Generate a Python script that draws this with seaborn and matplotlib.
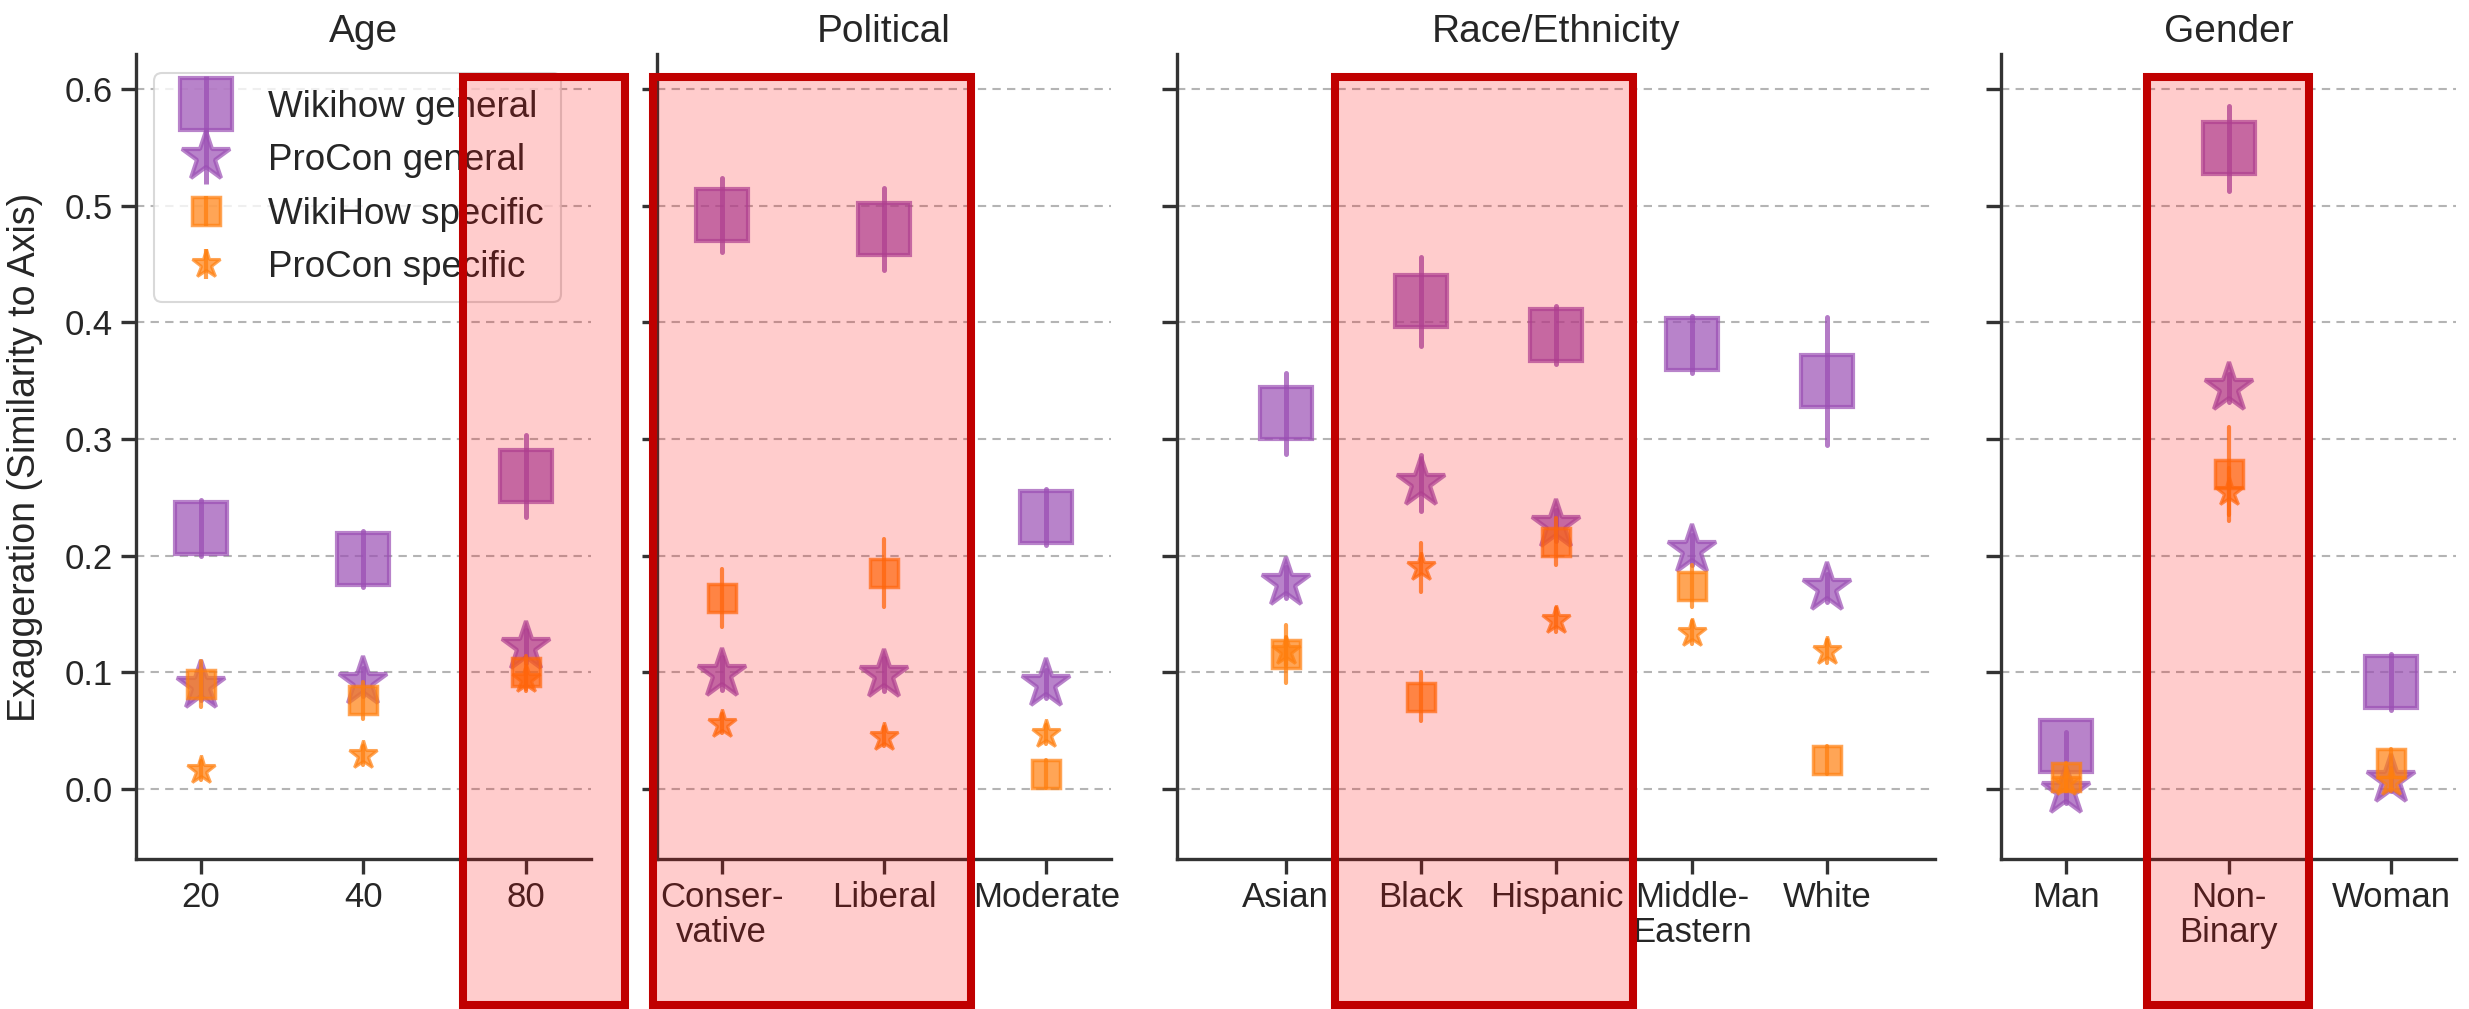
import numpy as np
import pandas as pd
import matplotlib
matplotlib.use("Agg")
import matplotlib.pyplot as plt
import seaborn as sns
from matplotlib.lines import Line2D
from matplotlib.patches import Rectangle

# ---------------- data ----------------
groups = ["Age", "Political", "Race/Ethnicity", "Gender"]
age_cats = ["20", "40", "80"]
political_cats = ["Conser-\nvative", "Liberal", "Moderate"]
race_cats = ["Asian", "Black", "Hispanic", "Middle-\nEastern", "White"]
gender_cats = ["Man", "Non-\nBinary", "Woman"]

series_names = ["Wikihow general", "ProCon general", "WikiHow specific", "ProCon specific"]

# Wikihow general
age_wg = [0.224, 0.197, 0.268]
political_wg = [0.492, 0.480, 0.233]
race_wg = [0.322, 0.418, 0.389, 0.381, 0.350]
gender_wg = [0.037, 0.549, 0.092]
age_wg_err = [0.024, 0.024, 0.035]
political_wg_err = [0.032, 0.035, 0.024]
race_wg_err = [0.035, 0.038, 0.025, 0.024, 0.055]
gender_wg_err = [0.012, 0.036, 0.024]

# ProCon general
age_pg = [0.088, 0.092, 0.122]
political_pg = [0.099, 0.098, 0.090]
race_pg = [0.177, 0.262, 0.226, 0.205, 0.172]
gender_pg = [-0.002, 0.344, 0.008]
age_pg_err = [0.012, 0.012, 0.014]
political_pg_err = [0.014, 0.014, 0.012]
race_pg_err = [0.013, 0.024, 0.013, 0.013, 0.012]
gender_pg_err = [0.010, 0.012, 0.010]

# WikiHow specific
age_ws = [0.090, 0.076, 0.100]
political_ws = [0.164, 0.185, 0.013]
race_ws = [0.116, 0.079, 0.212, 0.174, 0.025]
gender_ws = [0.010, 0.270, 0.022]
age_ws_err = [0.020, 0.016, 0.014]
political_ws_err = [0.025, 0.029, 0.012]
race_ws_err = [0.025, 0.021, 0.020, 0.018, 0.012]
gender_ws_err = [0.012, 0.040, 0.012]

# ProCon specific
age_ps = [0.016, 0.029, 0.094]
political_ps = [0.056, 0.045, 0.047]
race_ps = [0.118, 0.190, 0.145, 0.134, 0.118]
gender_ps = [0.006, 0.255, 0.006]
age_ps_err = [0.008, 0.008, 0.010]
political_ps_err = [0.008, 0.008, 0.008]
race_ps_err = [0.012, 0.021, 0.010, 0.010, 0.010]
gender_ps_err = [0.008, 0.020, 0.008]

group_cats = [age_cats, political_cats, race_cats, gender_cats]
values = {
    "Wikihow general": [age_wg, political_wg, race_wg, gender_wg],
    "ProCon general": [age_pg, political_pg, race_pg, gender_pg],
    "WikiHow specific": [age_ws, political_ws, race_ws, gender_ws],
    "ProCon specific": [age_ps, political_ps, race_ps, gender_ps],
}
errors = {
    "Wikihow general": [age_wg_err, political_wg_err, race_wg_err, gender_wg_err],
    "ProCon general": [age_pg_err, political_pg_err, race_pg_err, gender_pg_err],
    "WikiHow specific": [age_ws_err, political_ws_err, race_ws_err, gender_ws_err],
    "ProCon specific": [age_ps_err, political_ps_err, race_ps_err, gender_ps_err],
}

# long table: each point is stored as (low, value, high); the median recovers
# the value and the min/max give the error interval
rows = []
for s in series_names:
    for g, cats, vals, errs in zip(groups, group_cats, values[s], errors[s]):
        for c, v, e in zip(cats, vals, errs):
            for y in (v - e, v, v + e):
                rows.append({"series": s, "group": g, "category": c, "value": y})
df = pd.DataFrame(rows)

# ---------------- style ----------------
sns.set_theme(style="ticks")
plt.rcParams["font.family"] = ["Liberation Sans", "DejaVu Sans"]
FS = 25
INK = "#262626"
PURPLE = "#9b4fb4"
ORANGE = "#ff7f0e"

styles = {
    "Wikihow general": dict(color=PURPLE, marker="s", ms=38, mew=3.0, elw=3.6),
    "ProCon general": dict(color=PURPLE, marker="*", ms=37, mew=3.0, elw=3.6),
    "WikiHow specific": dict(color=ORANGE, marker="s", ms=20, mew=2.5, elw=3.0),
    "ProCon specific": dict(color=ORANGE, marker="*", ms=21, mew=2.2, elw=3.0),
}

W, H = 2469, 1009
fig, axes = plt.subplots(
    1, 4, figsize=(W / 100, H / 100), dpi=100, sharey=True,
    gridspec_kw=dict(width_ratios=[3, 3, 5, 3], left=136 / W, right=2456 / W,
                     bottom=1 - 859 / H, top=1 - 54 / H, wspace=0.1244),
)

xlims = [(-0.4, 2.4), (-0.4, 2.4), (-0.8, 4.8), (-0.4, 2.4)]

for ax, g, cats, xl in zip(axes, groups, group_cats, xlims):
    for s in series_names:
        st = styles[s]
        sub = df[(df["group"] == g) & (df["series"] == s)]
        sns.pointplot(
            data=sub, x="category", y="value", order=cats,
            estimator="median", errorbar=lambda v: (v.min(), v.max()),
            color=st["color"], markers=st["marker"], linestyles="none",
            markersize=st["ms"], markeredgewidth=st["mew"], alpha=0.7,
            err_kws={"linewidth": st["elw"], "alpha": 0.75},
            capsize=0, ax=ax,
        )
    ax.set_xlim(*xl)
    ax.set_xlabel("")
    ax.set_ylabel("")
    ax.set_title(g, fontsize=28, pad=9, color=INK)
    ax.yaxis.grid(True, linestyle=(0, (4, 3)), color="#b4b4b4", linewidth=1.5)
    ax.set_axisbelow(True)
    for side in ("top", "right"):
        ax.spines[side].set_visible(False)
    for side in ("left", "bottom"):
        ax.spines[side].set_linewidth(2.4)
        ax.spines[side].set_color("#333333")
    ax.tick_params(axis="both", labelsize=FS, length=11, width=2.4,
                   color="#333333", labelcolor=INK)
    ax.tick_params(axis="x", pad=5)
    ax.tick_params(axis="y", pad=6)
    for lab in ax.get_xticklabels():
        lab.set_linespacing(1.05)

axes[0].set_ylim(-0.06, 0.63)
axes[0].set_yticks([0.0, 0.1, 0.2, 0.3, 0.4, 0.5, 0.6])
axes[0].set_yticklabels([f"{t:.1f}" for t in [0.0, 0.1, 0.2, 0.3, 0.4, 0.5, 0.6]])

fig.text(25 / W, 1 - 457 / H, "Exaggeration (Similarity to Axis)", rotation=90,
         ha="center", va="center", fontsize=27, color=INK)

# legend: marker with a vertical error stroke through it
handles = []
for s in series_names:
    st = styles[s]
    mk = Line2D([], [], ls="none", marker=st["marker"], color=st["color"],
                ms=st["ms"], mew=st["mew"], alpha=0.7)
    bar = Line2D([], [], ls="none", marker="|", color=st["color"],
                 ms=st["ms"] * 1.05, mew=st["elw"], alpha=0.75)
    handles.append((mk, bar))
leg = axes[0].legend(handles, series_names, loc="upper left",
                     bbox_to_anchor=(0.04, 0.976), borderaxespad=0,
                     fontsize=26.5, labelspacing=0.5, handlelength=1.9,
                     handletextpad=0.75, borderpad=0.45, frameon=True)
leg.get_frame().set_edgecolor("#d0d0d0")
leg.get_frame().set_linewidth(1.5)
for t in leg.get_texts():
    t.set_color(INK)

# highlighted categories
highlight_px = [(463, 625), (653, 971), (1335, 1633), (2147, 2309)]
top_px, bottom_px = 77, 1005
for x0, x1 in highlight_px:
    fig.add_artist(Rectangle(
        (x0 / W, 1 - bottom_px / H), (x1 - x0) / W, (bottom_px - top_px) / H,
        transform=fig.transFigure, facecolor=(1, 0, 0, 0.2),
        edgecolor="#c00000", linewidth=5.8, zorder=10,
    ))

fig.savefig("out.png", dpi=100)
